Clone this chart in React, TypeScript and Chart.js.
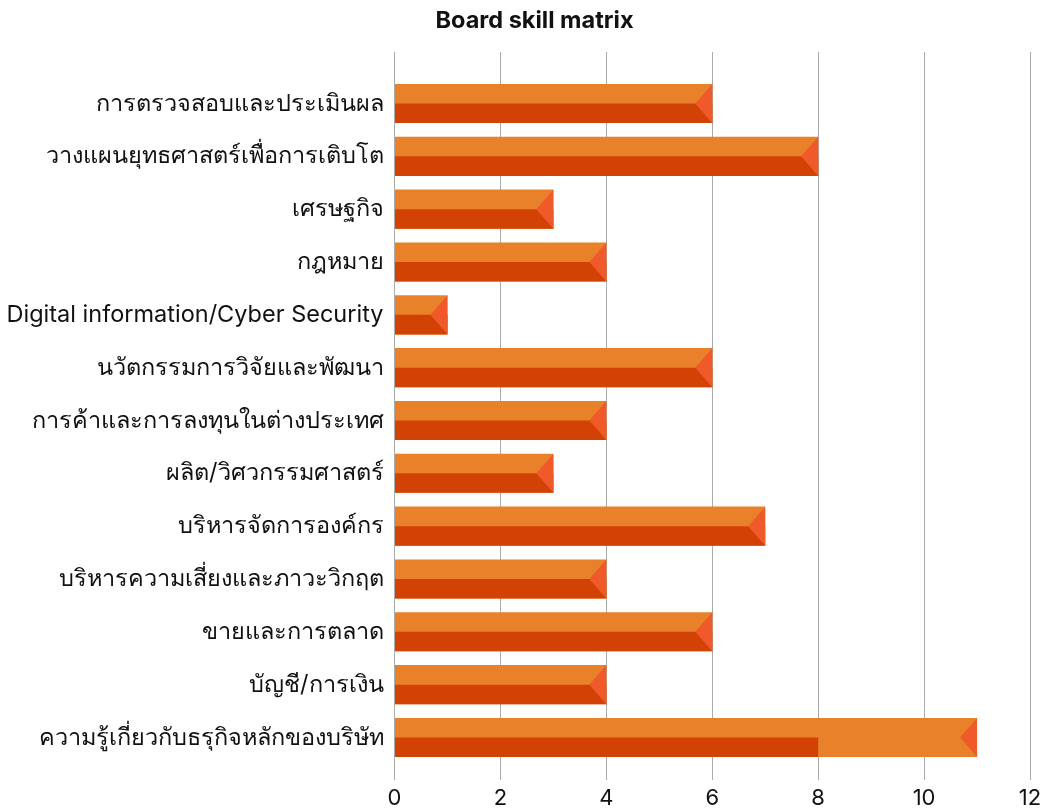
import React, { useEffect, useRef } from "react";
import { Chart, registerables } from "chart.js";

Chart.register(...registerables);

const categories = [
  "การตรวจสอบและประเมินผล",
  "วางแผนยุทธศาสตร์เพื่อการเติบโต",
  "เศรษฐกิจ",
  "กฎหมาย",
  "Digital information/Cyber Security",
  "นวัตกรรมการวิจัยและพัฒนา",
  "การค้าและการลงทุนในต่างประเทศ",
  "ผลิต/วิศวกรรมศาสตร์",
  "บริหารจัดการองค์กร",
  "บริหารความเสี่ยงและภาวะวิกฤต",
  "ขายและการตลาด",
  "บัญชี/การเงิน",
  "ความรู้เกี่ยวกับธรุกิจหลักของบริษัท",
];

const topValues = [6, 8, 3, 4, 1, 6, 4, 3, 7, 4, 6, 4, 11];
const bottomValues = [6, 8, 3, 4, 1, 6, 4, 3, 7, 4, 6, 4, 8];
const xTickValues = [0, 2, 4, 6, 8, 10, 12];

const TITLE = "Board skill matrix";
const LIGHT = "#E88129";
const DARK = "#D34205";
const TIP = "#F05A2B";
const FONT = "Inter, 'Noto Sans', 'DejaVu Sans', sans-serif";

const barStylePlugin = {
  id: "barStyle",
  beforeDatasetDraw(chart: any, args: any) {
    const ds = chart.data.datasets[args.index];
    if (ds && ds.isBottomHalf) {
      const lightMeta = chart.getDatasetMeta(1);
      const el = lightMeta && lightMeta.data[0];
      const h = el ? el.height : 39;
      chart.ctx.save();
      chart.ctx.translate(0, h / 4);
    }
  },
  afterDatasetDraw(chart: any, args: any) {
    const ds = chart.data.datasets[args.index];
    if (ds && ds.isBottomHalf) {
      chart.ctx.restore();
    }
  },
  afterDatasetsDraw(chart: any) {
    const ctx = chart.ctx;
    const meta = chart.getDatasetMeta(1);
    ctx.save();
    ctx.fillStyle = TIP;
    meta.data.forEach((el: any) => {
      const h = el.height;
      const w = 17;
      ctx.beginPath();
      ctx.moveTo(el.x, el.y - h / 2);
      ctx.lineTo(el.x, el.y + h / 2);
      ctx.lineTo(el.x - w, el.y);
      ctx.closePath();
      ctx.fill();
    });
    ctx.restore();
  },
};

export default function App() {
  const canvasRef = useRef<HTMLCanvasElement | null>(null);

  useEffect(() => {
    if (!canvasRef.current) return;
    Chart.defaults.font.family = FONT;
    const chart = new Chart(canvasRef.current, {
      type: "bar",
      data: {
        datasets: [
          {
            label: "bottom",
            isBottomHalf: true,
            data: bottomValues.map((v, i) => ({ x: v, y: i })),
            backgroundColor: DARK,
            borderWidth: 0,
            barPercentage: 0.37,
            categoryPercentage: 1,
            grouped: false,
            order: 1,
          } as any,
          {
            label: "top",
            data: topValues.map((v, i) => ({ x: v, y: i })),
            backgroundColor: LIGHT,
            borderWidth: 0,
            barPercentage: 0.74,
            categoryPercentage: 1,
            grouped: false,
            order: 2,
          } as any,
        ],
      },
      options: {
        indexAxis: "y",
        animation: false,
        responsive: false,
        maintainAspectRatio: false,
        layout: { padding: { left: 39, right: 18, top: 0, bottom: 0 } },
        plugins: {
          legend: { display: false },
          tooltip: { enabled: false },
          title: {
            display: true,
            text: TITLE,
            color: "#111111",
            font: { size: 23.5, weight: "bold", family: FONT, lineHeight: 1.2 },
            padding: { top: 7, bottom: 16.8 },
          },
        },
        scales: {
          x: {
            type: "linear",
            min: 0,
            max: 12,
            afterBuildTicks: (scale: any) => {
              scale.ticks = xTickValues.map((v) => ({ value: v }));
            },
            afterFit: (scale: any) => {
              scale.height = 32;
            },
            grid: { color: "#ABABAB", drawTicks: false, lineWidth: 1 },
            border: { display: false },
            ticks: {
              color: "#111111",
              font: { size: 22, family: FONT },
              padding: 5,
            },
          },
          y: {
            type: "linear",
            reverse: true,
            offset: false,
            min: -0.975,
            max: 12.805,
            afterBuildTicks: (scale: any) => {
              scale.ticks = categories.map((_, i) => ({ value: i }));
            },
            afterFit: (scale: any) => {
              scale.width = 355.5;
              // let long labels extend past the axis box instead of being clipped
              scale._computeLabelArea = () => undefined;
            },
            grid: { display: false, drawTicks: false, offset: false },
            border: { display: false },
            ticks: {
              color: "#111111",
              font: { size: 23.5, family: FONT },
              padding: 11,
              autoSkip: false,
              callback: (v: any) => categories[v] ?? "",
            },
          },
        },
      } as any,
      plugins: [barStylePlugin],
    });
    return () => chart.destroy();
  }, []);

  return (
    <div style={{ position: "absolute", left: 0, top: 0, width: 1048, height: 812 }}>
      <canvas ref={canvasRef} width={1048} height={812} style={{ display: "block" }} />
    </div>
  );
}
